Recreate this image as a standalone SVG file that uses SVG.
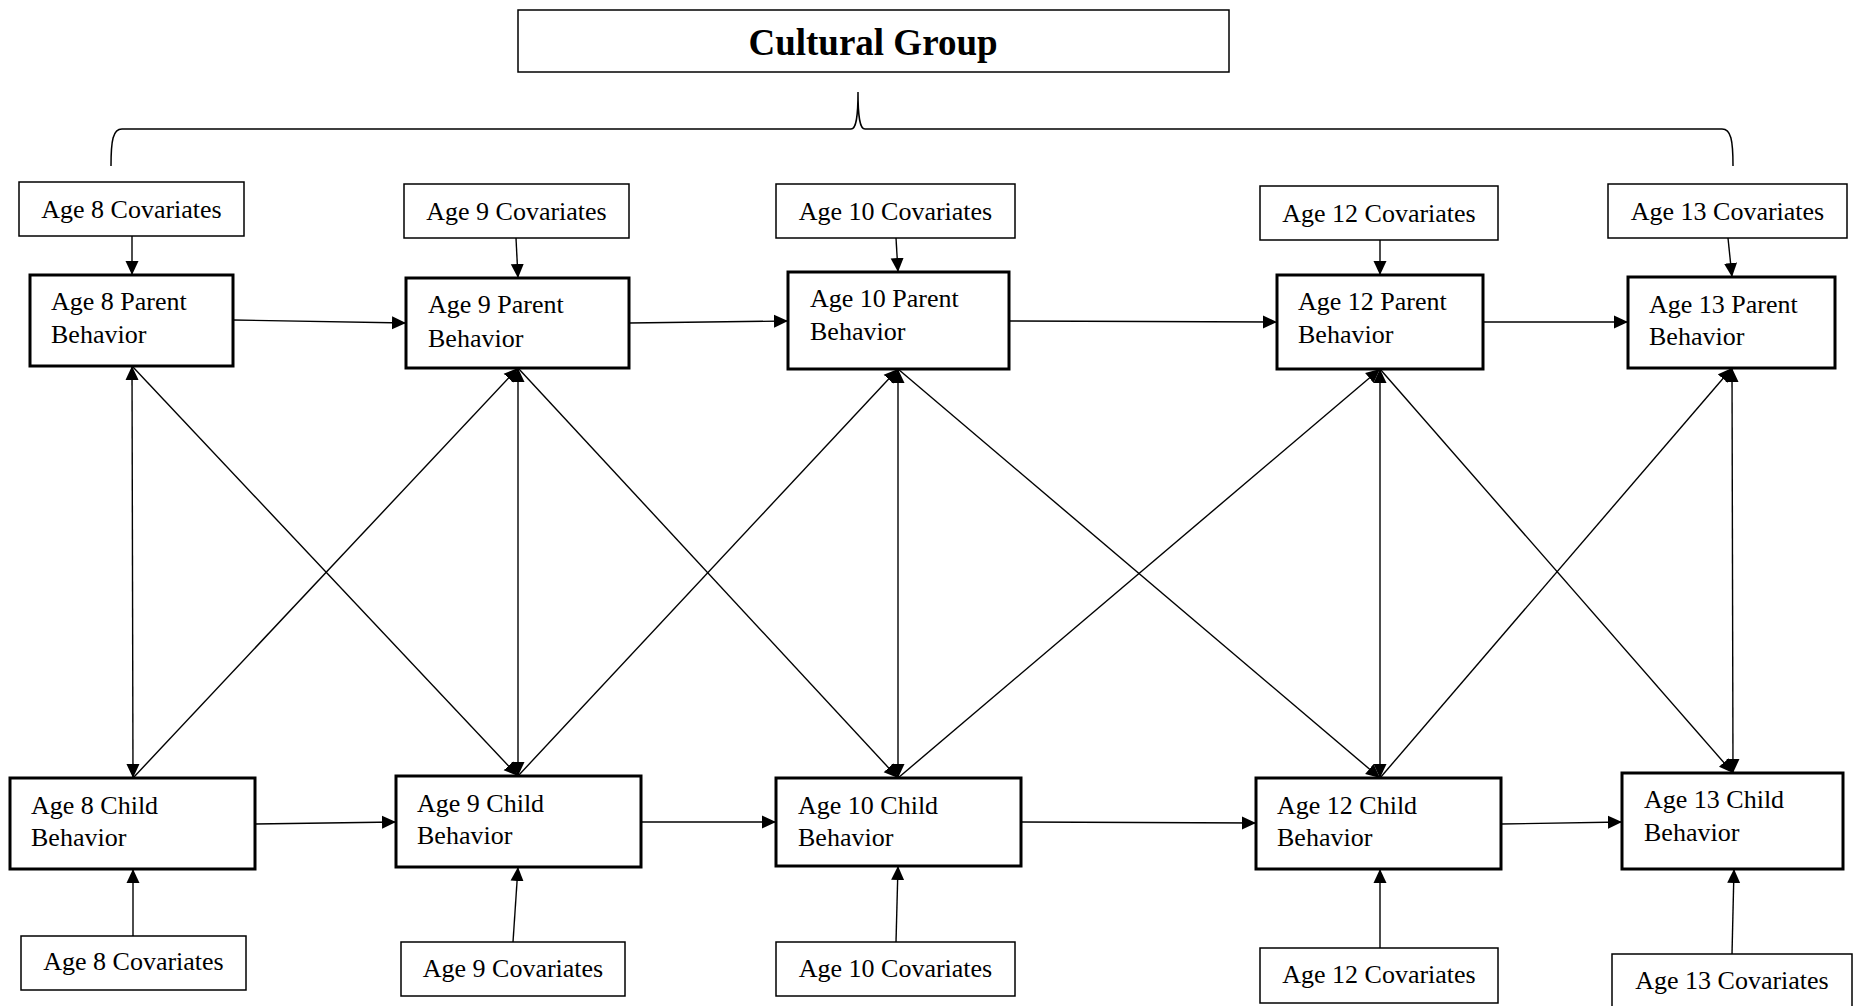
<svg xmlns="http://www.w3.org/2000/svg" width="1860" height="1006" viewBox="0 0 1860 1006">
<defs>
<marker id="ah" viewBox="0 0 14 14" refX="14" refY="7" markerWidth="14" markerHeight="14" markerUnits="userSpaceOnUse" orient="auto-start-reverse">
<path d="M0,0.5 L14,7 L0,13.5 Z" fill="#000"/>
</marker>
</defs>
<style>
.thin{fill:#fff;stroke:#000;stroke-width:1.5}
.thick{fill:#fff;stroke:#000;stroke-width:3}
.t{font-family:"Liberation Serif","Times New Roman",serif;font-size:26px;fill:#000}
.c{text-anchor:middle}
.title{font-family:"Liberation Serif","Times New Roman",serif;font-size:37px;font-weight:bold;text-anchor:middle;fill:#000}
.ln{stroke:#000;stroke-width:1.4;fill:none;marker-end:url(#ah)}
.dbl{marker-start:url(#ah)}
.brace{stroke:#000;stroke-width:1.5;fill:none}
</style>
<rect width="1860" height="1006" fill="#fff"/>

<g id="cultural-group">
<rect class="thin" x="518" y="10" width="711" height="62"/>
<text class="title" x="873" y="55">Cultural Group</text>
</g>
<g id="brace">
<path class="brace" d="M111,166 C111,140 113,129 122,129 L851,129 C856,129 858,118 858,92 C858,118 860,129 865,129 L1722,129 C1731,129 1733,140 1733,166"/>
</g>

<g id="connectors">
<line class="ln" x1="132" y1="236" x2="132" y2="275"/>
<line class="ln" x1="516" y1="238" x2="518" y2="278"/>
<line class="ln" x1="896" y1="238" x2="898" y2="272"/>
<line class="ln" x1="1380" y1="240" x2="1380" y2="275"/>
<line class="ln" x1="1728" y1="238" x2="1732" y2="277"/>

<line class="ln" x1="133" y1="936" x2="133" y2="869"/>
<line class="ln" x1="513" y1="942" x2="518" y2="867"/>
<line class="ln" x1="896" y1="942" x2="898" y2="866"/>
<line class="ln" x1="1380" y1="948" x2="1380" y2="869"/>
<line class="ln" x1="1732" y1="954" x2="1734" y2="869"/>

<line class="ln" x1="233" y1="320" x2="406" y2="323"/>
<line class="ln" x1="629" y1="323" x2="788" y2="321"/>
<line class="ln" x1="1009" y1="321" x2="1277" y2="322"/>
<line class="ln" x1="1483" y1="322" x2="1628" y2="322"/>

<line class="ln" x1="255" y1="824" x2="396" y2="822"/>
<line class="ln" x1="641" y1="822" x2="776" y2="822"/>
<line class="ln" x1="1021" y1="822" x2="1256" y2="823"/>
<line class="ln" x1="1501" y1="824" x2="1622" y2="822"/>

<line class="ln dbl" x1="132" y1="366" x2="133" y2="778"/>
<line class="ln dbl" x1="518" y1="368" x2="518" y2="776"/>
<line class="ln dbl" x1="898" y1="369" x2="898" y2="778"/>
<line class="ln dbl" x1="1380" y1="369" x2="1380" y2="778"/>
<line class="ln dbl" x1="1732" y1="368" x2="1733" y2="773"/>

<line class="ln" x1="132" y1="366" x2="518" y2="776"/>
<line class="ln" x1="518" y1="368" x2="898" y2="778"/>
<line class="ln" x1="898" y1="369" x2="1380" y2="778"/>
<line class="ln" x1="1380" y1="369" x2="1733" y2="773"/>

<line class="ln" x1="133" y1="778" x2="518" y2="368"/>
<line class="ln" x1="518" y1="776" x2="898" y2="369"/>
<line class="ln" x1="898" y1="778" x2="1380" y2="369"/>
<line class="ln" x1="1380" y1="778" x2="1732" y2="368"/>
</g>

<g id="cov8-top"><rect class="thin" x="19" y="182" width="225" height="54"/><text class="t c" x="131.5" y="218">Age 8 Covariates</text></g>
<g id="cov9-top"><rect class="thin" x="404" y="184" width="225" height="54"/><text class="t c" x="516.5" y="220">Age 9 Covariates</text></g>
<g id="cov10-top"><rect class="thin" x="776" y="184" width="239" height="54"/><text class="t c" x="895.5" y="220">Age 10 Covariates</text></g>
<g id="cov12-top"><rect class="thin" x="1260" y="186" width="238" height="54"/><text class="t c" x="1379" y="222">Age 12 Covariates</text></g>
<g id="cov13-top"><rect class="thin" x="1608" y="184" width="239" height="54"/><text class="t c" x="1727.5" y="220">Age 13 Covariates</text></g>

<g id="parent8"><rect class="thick" x="30" y="275" width="203" height="91"/><text class="t" x="51" y="310">Age 8 Parent</text><text class="t" x="51" y="343">Behavior</text></g>
<g id="parent9"><rect class="thick" x="406" y="278" width="223" height="90"/><text class="t" x="428" y="313">Age 9 Parent</text><text class="t" x="428" y="347">Behavior</text></g>
<g id="parent10"><rect class="thick" x="788" y="272" width="221" height="97"/><text class="t" x="810" y="307">Age 10 Parent</text><text class="t" x="810" y="340">Behavior</text></g>
<g id="parent12"><rect class="thick" x="1277" y="275" width="206" height="94"/><text class="t" x="1298" y="310">Age 12 Parent</text><text class="t" x="1298" y="343">Behavior</text></g>
<g id="parent13"><rect class="thick" x="1628" y="277" width="207" height="91"/><text class="t" x="1649" y="313">Age 13 Parent</text><text class="t" x="1649" y="345">Behavior</text></g>

<g id="child8"><rect class="thick" x="10" y="778" width="245" height="91"/><text class="t" x="31" y="814">Age 8 Child</text><text class="t" x="31" y="846">Behavior</text></g>
<g id="child9"><rect class="thick" x="396" y="776" width="245" height="91"/><text class="t" x="417" y="812">Age 9 Child</text><text class="t" x="417" y="844">Behavior</text></g>
<g id="child10"><rect class="thick" x="776" y="778" width="245" height="88"/><text class="t" x="798" y="814">Age 10 Child</text><text class="t" x="798" y="846">Behavior</text></g>
<g id="child12"><rect class="thick" x="1256" y="778" width="245" height="91"/><text class="t" x="1277" y="814">Age 12 Child</text><text class="t" x="1277" y="846">Behavior</text></g>
<g id="child13"><rect class="thick" x="1622" y="773" width="221" height="96"/><text class="t" x="1644" y="808">Age 13 Child</text><text class="t" x="1644" y="841">Behavior</text></g>

<g id="cov8-bottom"><rect class="thin" x="21" y="936" width="225" height="54"/><text class="t c" x="133.5" y="970">Age 8 Covariates</text></g>
<g id="cov9-bottom"><rect class="thin" x="401" y="942" width="224" height="54"/><text class="t c" x="513" y="977">Age 9 Covariates</text></g>
<g id="cov10-bottom"><rect class="thin" x="776" y="942" width="239" height="54"/><text class="t c" x="895.5" y="977">Age 10 Covariates</text></g>
<g id="cov12-bottom"><rect class="thin" x="1260" y="948" width="238" height="55"/><text class="t c" x="1379" y="983">Age 12 Covariates</text></g>
<g id="cov13-bottom"><rect class="thin" x="1612" y="954" width="240" height="60"/><text class="t c" x="1732" y="989">Age 13 Covariates</text></g>
</svg>
